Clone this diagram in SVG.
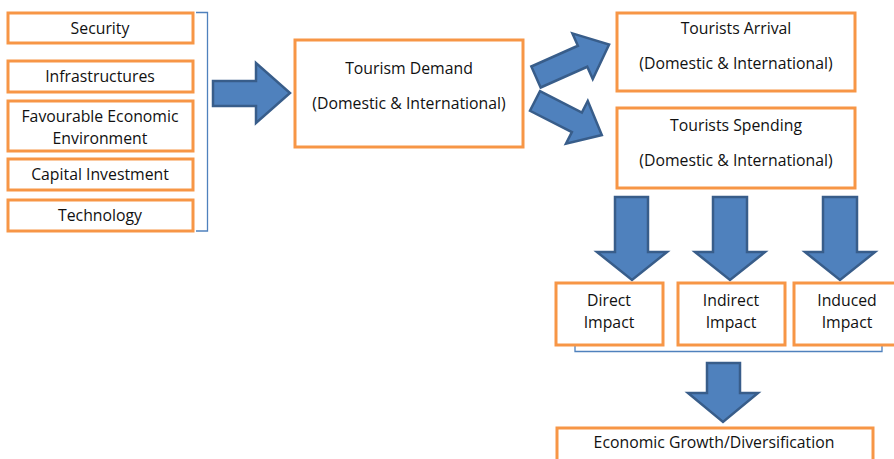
<svg xmlns="http://www.w3.org/2000/svg" width="894" height="459" viewBox="0 0 894 459">
<style>
.box{fill:#fff;stroke:#F79646;stroke-width:3}
.arr{fill:#4F81BD;stroke:#385D8A;stroke-width:2.5;stroke-linejoin:miter}
.br{fill:none;stroke:#4F81BD;stroke-width:1.3}
text{font-family:"Open Sans","Liberation Sans",sans-serif;font-size:15.8px;fill:#111;text-anchor:middle}
</style>
<rect width="894" height="459" fill="#fff"/>
<g id="connectors">
<path class="br" d="M196,12.5 H207.5 V231 H196"/>
<path class="br" d="M575,343 V351.5 H882 V343"/>
<path class="arr" d="M213,81 H256 V63 L290,93 L256,123 V106 H213 Z"/>
<path class="arr" transform="translate(536,77) rotate(-24)" d="M0,-11.5 H51 V-25 L80,0 L51,25 V11.5 H0 Z"/>
<path class="arr" transform="translate(535,101) rotate(27)" d="M0,-11 H47 V-24 L75,0 L47,24 V11 H0 Z"/>
<path class="arr" d="M615,197 H648 V252 H667 L632,280 L597,252 H615 Z"/>
<path class="arr" d="M713,197 H747 V252 H765 L730,280 L695,252 H713 Z"/>
<path class="arr" d="M823,197 H857 V252 H875 L840,280 L805,252 H823 Z"/>
<path class="arr" d="M707,363 H740 V393 H758 L723,422 L688,393 H707 Z"/>
</g>
<g id="security"><rect class="box" x="8" y="13" width="185" height="30"/><text x="100" y="34">Security</text></g>
<g id="infrastructures"><rect class="box" x="8" y="61" width="185" height="31"/><text x="100" y="82">Infrastructures</text></g>
<g id="favourable"><rect class="box" x="8" y="101" width="185" height="50"/><text x="100" y="122">Favourable Economic</text><text x="100" y="144">Environment</text></g>
<g id="capital"><rect class="box" x="8" y="159" width="185" height="31"/><text x="100" y="180">Capital Investment</text></g>
<g id="technology"><rect class="box" x="8" y="200" width="185" height="31"/><text x="100" y="221">Technology</text></g>
<g id="demand"><rect class="box" x="295" y="40" width="228" height="107"/><text x="409" y="74">Tourism Demand</text><text x="409" y="109">(Domestic &amp; International)</text></g>
<g id="arrival"><rect class="box" x="617" y="13" width="238" height="78"/><text x="736" y="34">Tourists Arrival</text><text x="736" y="69">(Domestic &amp; International)</text></g>
<g id="spending"><rect class="box" x="617" y="108" width="238" height="80"/><text x="736" y="131">Tourists Spending</text><text x="736" y="166">(Domestic &amp; International)</text></g>
<g id="direct"><rect class="box" x="556" y="283" width="107" height="62"/><text x="609" y="306">Direct</text><text x="609" y="328">Impact</text></g>
<g id="indirect"><rect class="box" x="678" y="283" width="107" height="62"/><text x="731" y="306">Indirect</text><text x="731" y="328">Impact</text></g>
<g id="induced"><rect class="box" x="794" y="283" width="104" height="62"/><text x="847" y="306">Induced</text><text x="847" y="328">Impact</text></g>
<g id="growth"><rect class="box" x="557" y="428" width="316" height="35"/><text x="714" y="448">Economic Growth/Diversification</text></g>
</svg>
